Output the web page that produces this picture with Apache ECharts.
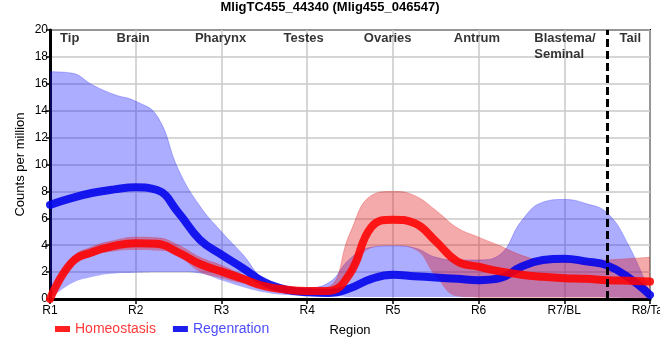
<!DOCTYPE html>
<html>
<head>
<meta charset="utf-8">
<script src="https://cdn.jsdelivr.net/npm/echarts@6/dist/echarts.min.js"></script>
<style>
html,body{margin:0;padding:0;background:#fff;}
#chart{width:660px;height:360px;}
</style>
</head>
<body>
<div id="chart"></div>
<script>
// Sample positions along the body (1 = R1 ... 8 = R8/Tail)
var xPos = [1,1.25,1.5,1.75,2,2.25,2.5,2.75,3,3.25,3.5,3.75,4,4.25,4.5,4.75,5,5.25,5.5,5.75,6,6.25,6.5,6.75,7,7.25,7.5,7.75,8];

// Homeostasis
var homeoMean  = [0,2.7,3.5,3.95,4.15,4.1,3.45,2.6,2.05,1.5,0.95,0.7,0.6,0.6,1.9,5.35,5.9,5.65,4.3,2.8,2.4,2.05,1.8,1.65,1.55,1.5,1.4,1.35,1.3];
var homeoUpper = [0,3.0,3.9,4.35,4.6,4.55,4.0,3.1,2.5,1.8,1.2,0.85,0.75,0.9,4.9,7.7,8.0,7.7,6.6,5.3,4.6,3.95,3.25,2.85,2.75,2.8,2.9,3.0,3.1];
var homeoLower = [0,2.4,3.2,3.55,3.65,3.6,3.2,2.0,1.55,1.15,0.8,0.55,0.45,0.45,1.8,3.8,3.95,3.7,1.7,0.2,0.1,0.1,0.1,0.1,0.1,0.1,0.1,0.08,0.05];

// Regeneration
var regenMean  = [7.0,7.5,7.9,8.15,8.3,8.1,6.4,4.4,3.3,2.3,1.25,0.7,0.5,0.45,0.8,1.5,1.8,1.7,1.6,1.5,1.4,1.55,2.4,2.9,3.0,2.8,2.5,1.6,0.3];
var regenUpper = [16.9,16.8,15.9,15.2,14.7,13.6,9.6,6.9,5.0,3.3,1.4,0.9,0.85,1.2,3.0,3.85,3.95,3.8,3.1,2.9,2.9,3.3,5.8,7.2,7.4,7.1,6.4,4.0,0.4];
var regenLower = [0,1.15,1.65,1.9,1.95,2.0,2.0,1.9,1.4,0.9,0.5,0.3,0.25,0.2,0.15,0.15,0.15,0.15,0.15,0.15,0.15,0.15,0.15,0.15,0.15,0.15,0.12,0.1,0.05];

var xTickLabels = ['R1','R2','R3','R4','R5','R6','R7/BL','R8/Tail'];
var regionNames = ['Tip','Brain','Pharynx','Testes','Ovaries','Antrum','Blastema/\nSeminal','Tail'];
var regionX     = [1.23,1.97,2.99,3.96,4.94,5.98,6.65,7.77];
var regionAlign = ['center','center','center','center','center','center','left','center'];
var regionY = 19.95;
var dividerX = 7.5;

var cats = xPos.map(String);
function diffs(up, lo){ return up.map(function(u,i){ return Math.max(0, u - lo[i]); }); }
function isMajor(index, value){ return Number(value) % 1 === 0; }

var chart = echarts.init(document.getElementById('chart'), null, {renderer:'canvas'});

var FONT = 'Liberation Sans, Arial, sans-serif';
var homeoColor = 'rgba(255,0,0,0.87)';
var regenColor = 'rgba(0,0,235,0.88)';
var homeoBand = 'rgba(225,20,20,0.36)';
var regenBand = 'rgba(20,20,255,0.35)';

var SM = 0.45;

var option = {
  animation: false,
  backgroundColor: '#fff',
  title: {
    text: 'MligTC455_44340 (Mlig455_046547)',
    left: 'center', top: 1, padding: 0,
    textStyle: {fontFamily: FONT, fontSize: 13, fontWeight: 'bold', color: '#000'}
  },
  legend: {
    data: [
      {name: 'Homeostasis', textStyle: {color: '#ff3a3a'}},
      {name: 'Regenration', textStyle: {color: '#4d4dff'}}
    ],
    left: 55, top: 322, padding: 0,
    icon: 'rect', itemWidth: 15, itemHeight: 6, itemGap: 17,
    textStyle: {fontFamily: FONT, fontSize: 14}
  },
  grid: {left: 50, right: 10, top: 30, bottom: 61, containLabel: false, outerBoundsMode: 'none',
    show: true, borderColor: '#000', borderWidth: 2, backgroundColor: 'transparent'},
  xAxis: [{
    type: 'category', data: cats, boundaryGap: false,
    name: 'Region', nameLocation: 'middle', nameGap: 25, nameMoveOverlap: false,
    nameTextStyle: {fontFamily: FONT, fontSize: 13, color: '#000'},
    axisLine: {show: true, lineStyle: {color: '#000', width: 3}},
    axisTick: {show: true, length: 5, interval: isMajor, lineStyle: {color: '#000', width: 1.5}},
    axisLabel: {fontFamily: FONT, fontSize: 12, color: '#000', margin: 6, interval: isMajor,
      formatter: function(v){ return xTickLabels[Math.round(Number(v))-1] || ''; }},
    splitLine: {show: true, interval: isMajor, lineStyle: {color: '#c8c8c8', width: 1.5}}
  }, {
    type: 'value', min: 1, max: 8, show: false, position: 'bottom'
  }],
  yAxis: {
    type: 'value', min: 0, max: 20, interval: 2,
    name: 'Counts per million', nameLocation: 'middle', nameGap: 23, nameMoveOverlap: false,
    nameTextStyle: {fontFamily: FONT, fontSize: 13, color: '#000'},
    axisLine: {show: true, lineStyle: {color: '#000', width: 3}},
    axisTick: {show: true, length: 4, lineStyle: {color: '#000', width: 1.5}},
    axisLabel: {fontFamily: FONT, fontSize: 12, color: '#000', margin: 2},
    splitLine: {show: true, lineStyle: {color: '#c8c8c8', width: 1.5}}
  },
  series: [
    {name: 'regenLo', type: 'line', stack: 'regen', data: regenLower,
     smooth: SM, symbol: 'none', lineStyle: {width: 0, opacity: 0}, silent: true, z: 1},
    {name: 'regenBand', type: 'line', stack: 'regen', data: diffs(regenUpper, regenLower),
     smooth: SM, symbol: 'none', lineStyle: {width: 0.8, color: 'rgba(20,20,255,0.35)'}, areaStyle: {color: regenBand, opacity: 1}, silent: true, z: 1},
    {name: 'homeoLo', type: 'line', stack: 'homeo', data: homeoLower,
     smooth: SM, symbol: 'none', lineStyle: {width: 0, opacity: 0}, silent: true, z: 2},
    {name: 'homeoBand', type: 'line', stack: 'homeo', data: diffs(homeoUpper, homeoLower),
     smooth: SM, symbol: 'none', lineStyle: {width: 0.8, color: 'rgba(225,20,20,0.35)'}, areaStyle: {color: homeoBand, opacity: 1}, silent: true, z: 2},
    {name: 'Regenration', type: 'line', data: regenMean, smooth: SM, symbol: 'none',
     itemStyle: {color: regenColor}, lineStyle: {color: regenColor, width: 8, cap: 'round'}, z: 3},
    {name: 'Homeostasis', type: 'line', data: homeoMean, smooth: SM, symbol: 'none',
     itemStyle: {color: homeoColor}, lineStyle: {color: homeoColor, width: 8, cap: 'round'}, z: 4,
     markLine: {silent: true, symbol: 'none', label: {show: false},
       lineStyle: {color: '#000', type: [8,4], width: 3},
       data: [{xAxis: String(dividerX)}]}},
    {name: 'regions', type: 'scatter', xAxisIndex: 1, symbolSize: 0, silent: true, z: 6,
     data: regionNames.map(function(n,i){
       return {value: [regionX[i], regionY], name: n, label: {align: regionAlign[i]}};
     }),
     label: {show: true, position: 'bottom', distance: 0, formatter: function(p){ return p.name; },
       fontFamily: FONT, fontSize: 13, fontWeight: 'bold', color: '#000', lineHeight: 16}}
  ]
};
chart.setOption(option);
</script>
</body>
</html>
